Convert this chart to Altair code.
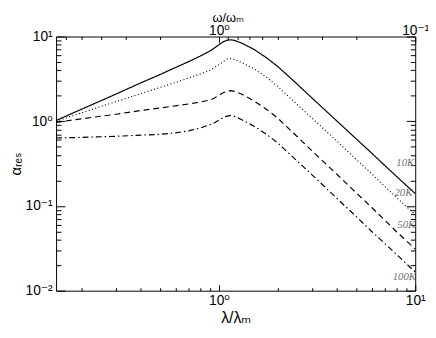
import altair as alt
import pandas as pd

# ---- data ----
lam = [0.148, 0.2, 0.3, 0.4, 0.5, 0.6, 0.7, 0.8, 0.9, 0.95, 1.0, 1.05, 1.1, 1.15, 1.2, 1.3,
       1.5, 1.75, 2.0, 2.5, 3.0, 4.0, 5.0, 6.0, 7.0, 8.0, 10.0]
s10 = [1.02, 1.39, 2.1, 2.84, 3.55, 4.3, 5.05, 5.85, 6.75, 7.35, 8.0, 8.65, 9.05, 9.15, 9.0, 8.4,
       7.1, 5.6, 4.4, 2.75, 1.85, 1.0, 0.62, 0.42, 0.30, 0.225, 0.14]
s20 = [1.0, 1.26, 1.71, 2.12, 2.5, 2.87, 3.23, 3.6, 4.0, 4.3, 4.65, 5.05, 5.4, 5.5, 5.35, 4.95,
       4.2, 3.3, 2.55, 1.58, 1.07, 0.58, 0.355, 0.24, 0.17, 0.127, 0.079]
s50 = [0.97, 1.07, 1.21, 1.34, 1.43, 1.52, 1.6, 1.68, 1.78, 1.88, 2.02, 2.17, 2.27, 2.3, 2.25, 2.1,
       1.75, 1.38, 1.08, 0.66, 0.44, 0.235, 0.143, 0.096, 0.068, 0.05, 0.031]
s100 = [0.634, 0.645, 0.665, 0.685, 0.70, 0.73, 0.77, 0.83, 0.91, 0.96, 1.03, 1.1, 1.15, 1.17, 1.14, 1.05,
        0.88, 0.7, 0.55, 0.34, 0.23, 0.122, 0.075, 0.05, 0.036, 0.027, 0.0166]
series_names = ["10K", "20K", "50K", "100K"]
series_vals = [s10, s20, s50, s100]
dashes = [[1, 0], [1, 2.5], [6, 4], [6, 3, 1.5, 3]]

label_text = ["10K", "20K", "50K", "100K"]
label_x = [8.9, 8.7, 9.0, 8.8]
label_y = [0.325, 0.142, 0.06, 0.0146]

x_ticks = [0.2, 0.3, 0.4, 0.5, 0.6, 0.7, 0.8, 0.9, 1, 2, 3, 4, 5, 6, 7, 8, 9, 10]
y_ticks = [0.01, 0.02, 0.03, 0.04, 0.05, 0.06, 0.07, 0.08, 0.09,
           0.1, 0.2, 0.3, 0.4, 0.5, 0.6, 0.7, 0.8, 0.9,
           1, 2, 3, 4, 5, 6, 7, 8, 9, 10]
w_ticks = [0.1, 0.2, 0.3, 0.4, 0.5, 0.6, 0.7, 0.8, 0.9, 1, 2, 3, 4, 5, 6]

rows = []
for name, vals in zip(series_names, series_vals):
    for l, v in zip(lam, vals):
        rows.append({"lam": l, "w": 1.0 / l, "alpha": v, "series": name})
df = pd.DataFrame(rows)
labels_df = pd.DataFrame({"lam": label_x, "alpha": label_y, "text": label_text})

W, H = 366, 259
FONT = "Liberation Sans, DejaVu Sans"

xscale = alt.Scale(type="log", domain=[0.148, 10], nice=False, zero=False)
yscale = alt.Scale(type="log", domain=[0.01, 10], nice=False, zero=False)
wscale = alt.Scale(type="log", domain=[0.1, 1 / 0.148], nice=False, zero=False, reverse=True)

x_major = "datum.value == 1 || datum.value == 10"
y_major = "datum.value == 0.01 || datum.value == 0.1 || datum.value == 1 || datum.value == 10"
w_major = "datum.value == 1 || datum.value == 0.1"

def tick_axis(orient, offset, values, test, major, minor):
    return alt.Axis(orient=orient, offset=offset, values=values, labels=False,
                    domain=False, grid=False, title=None, tickColor="black", tickWidth=1,
                    tickSize={"condition": {"test": test, "value": major}, "value": minor})

base = alt.Chart(df)

lines = base.mark_line(color="black", strokeWidth=1.2, clip=True).encode(
    x=alt.X("lam:Q", scale=xscale, axis=alt.Axis(
        orient="bottom", values=[1, 10],
        labelExpr="datum.value >= 5 ? '10¹' : '10⁰'",
        ticks=False, domain=False, grid=False, labelFlush=False, labelOverlap=False,
        labelFont=FONT, labelFontSize=14, labelColor="black", labelPadding=3,
        title="λ/λₘ", titleFont=FONT, titleFontSize=16, titleFontWeight="normal",
        titleColor="black", titlePadding=2)),
    y=alt.Y("alpha:Q", scale=yscale, axis=alt.Axis(
        orient="left", values=[0.01, 0.1, 1, 10],
        labelExpr="datum.value < 0.05 ? '10⁻²' : datum.value < 0.5 ? '10⁻¹' : datum.value < 5 ? '10⁰' : '10¹'",
        ticks=False, domain=False, grid=False, labelOverlap=False,
        labelFont=FONT, labelFontSize=14, labelColor="black", labelPadding=4,
        title="αᵣₑₛ", titleFont=FONT, titleFontSize=15, titleFontWeight="normal",
        titleColor="black", titlePadding=2)),
    strokeDash=alt.StrokeDash("series:N", scale=alt.Scale(domain=series_names, range=dashes),
                              legend=None),
)

ticks_b = base.mark_line(opacity=0).encode(
    x=alt.X("lam:Q", scale=xscale, axis=tick_axis("top", -H, x_ticks, x_major, 6, 3)),
    y=alt.Y("alpha:Q", scale=yscale, axis=tick_axis("right", -W, y_ticks, y_major, 9, 5)),
    detail="series:N",
)

top_axis = base.mark_line(opacity=0).encode(
    x=alt.X("w:Q", scale=wscale, axis=alt.Axis(
        orient="top", values=[0.1, 1],
        labelExpr="datum.value < 0.5 ? '10⁻¹' : '10⁰'",
        ticks=False, domain=False, grid=False, labelFlush=False, labelOverlap=False,
        labelFont=FONT, labelFontSize=14, labelColor="black", labelPadding=-1,
        title="ω/ωₘ", titleFont=FONT, titleFontSize=13, titleFontWeight="normal",
        titleColor="black", titleX=175, titleY=-19.5, titleBaseline="middle")),
    y=alt.Y("alpha:Q", scale=yscale, axis=tick_axis("left", -W, y_ticks, y_major, 9, 5)),
    detail="series:N",
)

top_ticks = base.mark_line(opacity=0).encode(
    x=alt.X("w:Q", scale=wscale, axis=tick_axis("bottom", -H, w_ticks, w_major, 6, 3)),
    y=alt.Y("alpha:Q", scale=yscale, axis=None),
    detail="series:N",
)

texts = alt.Chart(labels_df).mark_text(
    font="Liberation Serif, DejaVu Serif", fontStyle="italic", fontSize=11,
    color="#707070", align="center", baseline="middle"
).encode(
    x=alt.X("lam:Q", scale=xscale, axis=None),
    y=alt.Y("alpha:Q", scale=yscale, axis=None),
    text="text:N",
)

chart = alt.layer(lines, ticks_b, top_axis, top_ticks, texts).resolve_scale(
    x="independent"
).resolve_axis(
    x="independent", y="independent"
).properties(
    width=W, height=H,
    autosize=alt.AutoSizeParams(type="none"),
    padding={"left": 49, "top": 26, "right": 13, "bottom": 37},
    background="white",
).configure_view(stroke="black", strokeWidth=1)

chart.save("out.html", embed_options={"renderer": "svg", "actions": False})
